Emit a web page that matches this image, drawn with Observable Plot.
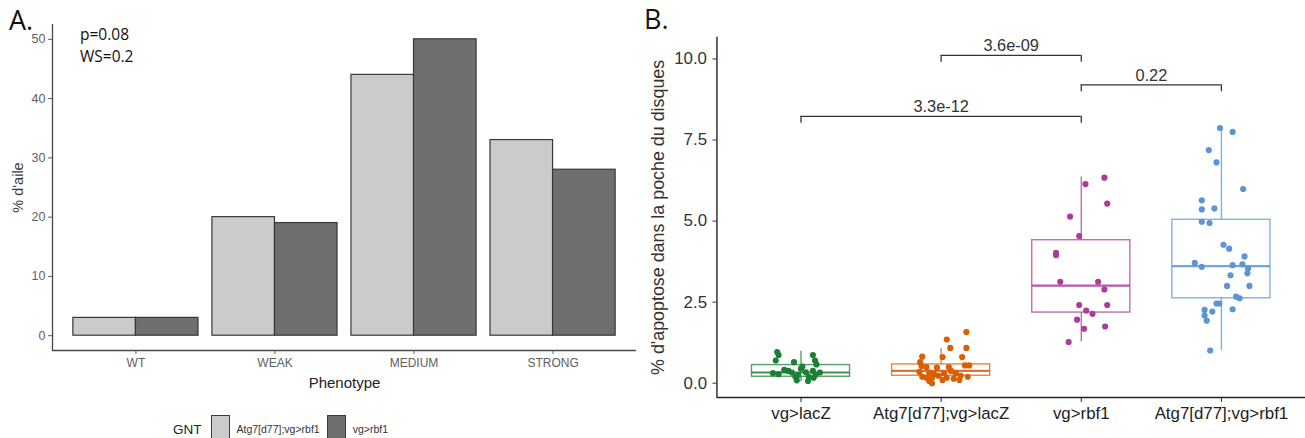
<!DOCTYPE html>
<html>
<head>
<meta charset="utf-8">
<script src="https://cdn.jsdelivr.net/npm/d3@7"></script>
<script src="https://cdn.jsdelivr.net/npm/@observablehq/plot@0.6"></script>
<style>
  html, body { margin: 0; padding: 0; background: #fff; width: 1305px; height: 438px; overflow: hidden; position: relative; }
  .abs { position: absolute; white-space: nowrap; }
  .tag { font-family: "Open Sans", "Liberation Sans", sans-serif; font-size: 27px; line-height: 27px; color: #111; }
  .stat { font-family: "Open Sans", "Liberation Sans", sans-serif; font-size: 15.5px; line-height: 15.5px; color: #111; }
  .narrow { font-family: "Liberation Sans", Arial, sans-serif; }
  #legendA { left: 173px; top: 415px; display: flex; align-items: flex-start; }
  #legendA .ttl { font-size: 13.5px; line-height: 14px; color: #222; margin-top: 8px; margin-right: 9px; }
  #legendA .key { width: 19px; height: 24px; box-sizing: border-box; border: 1.3px solid #3a3a3a; margin-right: 7px; }
  #legendA .lab { font-size: 10.5px; line-height: 11px; color: #333; margin-top: 9px; margin-right: 7px; }
</style>
</head>
<body>
<div id="panelA" class="abs" style="left:0;top:0"></div>
<div id="panelB" class="abs" style="left:640px;top:0"></div>
<div class="abs tag" style="left:9px;top:6px">A.</div>
<div class="abs tag" style="left:644px;top:5px">B.</div>
<div id="statA" class="abs stat" style="left:80px;top:27px"></div>
<div id="legendA" class="abs narrow"></div>
<script>
// ---------- Panel A data ----------
const phenotypes = ["WT", "WEAK", "MEDIUM", "STRONG"];
const gntLevels = ["Atg7[d77];vg>rbf1", "vg>rbf1"];
const pctAtg7Rbf1 = [3, 20, 44, 33];
const pctRbf1 = [3, 19, 50, 28];
const yTicksA = [0, 10, 20, 30, 40, 50];
const yTitleA = "% d'aile";
const xTitleA = "Phenotype";
const legendTitleA = "GNT";
const statLinesA = ["p=0.08", "WS=0.2"];

// ---------- Panel B data ----------
const groups = ["vg>lacZ", "Atg7[d77];vg>lacZ", "vg>rbf1", "Atg7[d77];vg>rbf1"];
const apoLacZ = [0.96, 0.87, 0.87, 0.70, 0.65, 0.70, 0.58, 0.51, 0.45, 0.38, 0.41, 0.38, 0.28, 0.33, 0.34, 0.33, 0.20, 0.26, 0.20, 0.26, 0.09, 0.17, 0.31, 0.07];
const jitLacZ = [-0.17, -0.16, 0.085, -0.18, -0.05, 0.10, 0.11, 0.01, 0.0, -0.09, -0.12, 0.085, -0.16, -0.065, 0.035, 0.135, -0.04, -0.02, 0.055, 0.105, -0.03, 0.09, -0.2, 0.05];
const apoAtg7LacZ = [1.58, 1.35, 1.09, 1.09, 0.82, 0.81, 0.81, 0.65, 0.55, 0.55, 0.53, 0.50, 0.48, 0.50, 0.38, 0.35, 0.33, 0.28, 0.31, 0.31, 0.20, 0.17, 0.23, 0.17, 0.14, 0.23, 0.07, 0.10, 0.00, 0.10, 0.20, 0.17];
const jitAtg7LacZ = [0.18, 0.04, 0.18, 0.065, -0.135, 0.01, 0.15, -0.15, 0.17, 0.2, -0.14, -0.105, -0.03, 0.055, 0.07, -0.155, -0.085, -0.05, 0.02, 0.105, -0.135, -0.065, -0.02, 0.04, 0.09, 0.14, -0.085, 0.01, -0.065, 0.13, 0.19, -0.105];
const apoRbf1 = [6.34, 6.14, 5.54, 5.14, 4.54, 4.02, 3.95, 3.13, 3.13, 2.89, 2.41, 2.41, 2.24, 2.14, 1.96, 1.68, 1.75, 1.27];
const jitRbf1 = [0.165, 0.03, 0.185, -0.08, -0.015, -0.18, -0.18, -0.15, 0.12, 0.165, -0.015, 0.185, 0.035, 0.08, -0.03, 0.02, 0.17, -0.09];
const apoAtg7Rbf1 = [7.87, 7.75, 7.19, 6.81, 5.99, 5.64, 5.36, 5.39, 4.98, 4.94, 4.27, 4.15, 3.91, 3.71, 3.59, 3.64, 3.67, 3.54, 3.39, 3.33, 3.00, 3.00, 2.67, 2.62, 2.46, 2.46, 2.28, 2.26, 2.21, 2.09, 1.93, 1.01];
const jitAtg7Rbf1 = [-0.01, 0.08, -0.09, -0.035, 0.155, -0.14, -0.14, -0.05, -0.14, -0.085, 0.015, 0.055, 0.165, -0.19, -0.14, 0.08, 0.15, 0.19, 0.185, 0.065, 0.04, 0.2, 0.105, 0.13, -0.035, -0.015, 0.08, -0.12, -0.065, -0.12, -0.105, -0.08];
// box summaries
const whiskerLo = [0.05, 0.0, 1.28, 1.01];
const quart1 = [0.20, 0.23, 2.18, 2.62];
const medians = [0.33, 0.38, 3.01, 3.61];
const quart3 = [0.56, 0.58, 4.41, 5.04];
const whiskerHi = [0.99, 1.08, 6.36, 7.88];
const yTicksB = [0, 2.5, 5, 7.5, 10];
const yTitleB = "% d'apoptose dans la poche du disques";
const comparisons = [["vg>lacZ", "vg>rbf1"], ["Atg7[d77];vg>lacZ", "vg>rbf1"], ["vg>rbf1", "Atg7[d77];vg>rbf1"]];
const pLabels = ["3.3e-12", "3.6e-09", "0.22"];
const bracketY = [8.23, 10.11, 9.2];

// ---------- styles ----------
const gntFills = ["#cbcbcb", "#6f6f6f"];
const groupColors = ["#1d7f35", "#d95f02", "#ad3a9c", "#5b95d5"];

// ---------- Panel A ----------
const barRows = phenotypes.flatMap((p, i) => [
  {phen: p, i, s: 0, gnt: gntLevels[0], pct: pctAtg7Rbf1[i]},
  {phen: p, i, s: 1, gnt: gntLevels[1], pct: pctRbf1[i]}
]);
const xA0 = -0.6, yA0 = -2.5;
const plotA = Plot.plot({
  width: 640, height: 395,
  marginLeft: 52, marginRight: 4, marginTop: 24, marginBottom: 45,
  x: {domain: [xA0, 3.6]},
  y: {domain: [yA0, 52.5]},
  color: {domain: gntLevels, range: gntFills},
  style: {fontFamily: '"Liberation Sans", Arial, sans-serif', background: "transparent", overflow: "visible"},
  marks: [
    Plot.rect(barRows, {x1: d => d.i - 0.45 + 0.45 * d.s, x2: d => d.i + 0.45 * d.s, y1: 0, y2: "pct", fill: "gnt", stroke: "#383838", strokeWidth: 1.2}),
    Plot.ruleX([xA0], {stroke: "#4a4a4a", strokeWidth: 1.3}),
    Plot.ruleY([yA0], {stroke: "#4a4a4a", strokeWidth: 1.3}),
    Plot.axisY({ticks: yTicksA, tickSize: 4, tickPadding: 3, fontSize: 12.5, color: "#5e5e5e", label: null}),
    Plot.axisX({ticks: [0, 1, 2, 3], tickFormat: i => phenotypes[i], tickSize: 4, tickPadding: 4, fontSize: 12, color: "#5e5e5e", label: null}),
    Plot.text([yTitleA], {frameAnchor: "left", textAnchor: "middle", lineAnchor: "middle", rotate: -90, dx: -34, fontSize: 14.5, fill: "#3a3a3a"}),
    Plot.text([xTitleA], {frameAnchor: "bottom", textAnchor: "middle", lineAnchor: "middle", dy: 33, fontSize: 15, fill: "#222"})
  ]
});
document.getElementById("panelA").appendChild(plotA);

document.getElementById("statA").innerHTML = statLinesA.map(t => `<div style="height:22px">${t}</div>`).join("");

const leg = document.getElementById("legendA");
leg.innerHTML = `<div class="ttl">${legendTitleA}</div>` +
  gntLevels.map((g, k) => `<div class="key" style="background:${gntFills[k]}"></div><div class="lab">${g.replace(/>/g, "&gt;")}</div>`).join("");

// ---------- Panel B ----------
const apoValues = [apoLacZ, apoAtg7LacZ, apoRbf1, apoAtg7Rbf1];
const apoJitter = [jitLacZ, jitAtg7LacZ, jitRbf1, jitAtg7Rbf1];
const pointRows = groups.flatMap((g, i) => apoValues[i].map((v, k) => ({g, i, xj: i + apoJitter[i][k], v})));
const boxRows = groups.map((g, i) => ({g, i, lo: whiskerLo[i], q1: quart1[i], med: medians[i], q3: quart3[i], hi: whiskerHi[i]}));
const compRows = comparisons.map(([a, b], k) => ({a: groups.indexOf(a), b: groups.indexOf(b), y: bracketY[k], label: pLabels[k]}));
const bracketEnds = compRows.flatMap(c => [{x: c.a, y: c.y}, {x: c.b, y: c.y}]);
const hw = 0.35, drop = 0.21;
const xB0 = -0.6, yB0 = -0.44;

const plotB = Plot.plot({
  width: 670, height: 438,
  marginLeft: 77, marginRight: 0, marginTop: 37, marginBottom: 38,
  x: {domain: [xB0, 3.6]},
  y: {domain: [yB0, 10.67]},
  color: {domain: groups, range: groupColors},
  style: {fontFamily: '"Liberation Sans", Arial, sans-serif', background: "transparent", overflow: "visible"},
  marks: [
    Plot.ruleX(boxRows, {x: "i", y1: "q3", y2: "hi", stroke: "g", strokeWidth: 1.4, strokeOpacity: 0.75}),
    Plot.ruleX(boxRows, {x: "i", y1: "lo", y2: "q1", stroke: "g", strokeWidth: 1.4, strokeOpacity: 0.75}),
    Plot.rect(boxRows, {x1: d => d.i - hw, x2: d => d.i + hw, y1: "q1", y2: "q3", stroke: "g", fill: "none", strokeWidth: 1.4, strokeOpacity: 0.75}),
    Plot.ruleY(boxRows, {y: "med", x1: d => d.i - hw, x2: d => d.i + hw, stroke: "g", strokeWidth: 2.2, strokeOpacity: 0.85}),
    Plot.dot(pointRows, {x: "xj", y: "v", fill: "g", r: 3.1, stroke: null}),
    Plot.ruleY(compRows, {y: "y", x1: "a", x2: "b", stroke: "#333", strokeWidth: 1.3}),
    Plot.ruleX(bracketEnds, {x: "x", y1: d => d.y - drop, y2: "y", stroke: "#333", strokeWidth: 1.3}),
    Plot.text(compRows, {x: d => (d.a + d.b) / 2, y: "y", text: "label", dy: -4, lineAnchor: "bottom", fontSize: 16.5, fill: "#333"}),
    Plot.ruleX([xB0], {stroke: "#222", strokeWidth: 1.4}),
    Plot.ruleY([yB0], {stroke: "#222", strokeWidth: 1.4}),
    Plot.axisY({ticks: yTicksB, tickFormat: d3.format(".1f"), tickSize: 4, tickPadding: 6, fontSize: 17, color: "#333", label: null}),
    Plot.axisX({ticks: [0, 1, 2, 3], tickFormat: i => groups[i], tickSize: 5, tickPadding: 5, fontSize: 17, color: "#222", label: null}),
    Plot.text([yTitleB], {frameAnchor: "left", textAnchor: "middle", lineAnchor: "middle", rotate: -90, dx: -59, fontSize: 18, fill: "#333"})
  ]
});
document.getElementById("panelB").appendChild(plotB);
</script>
</body>
</html>
